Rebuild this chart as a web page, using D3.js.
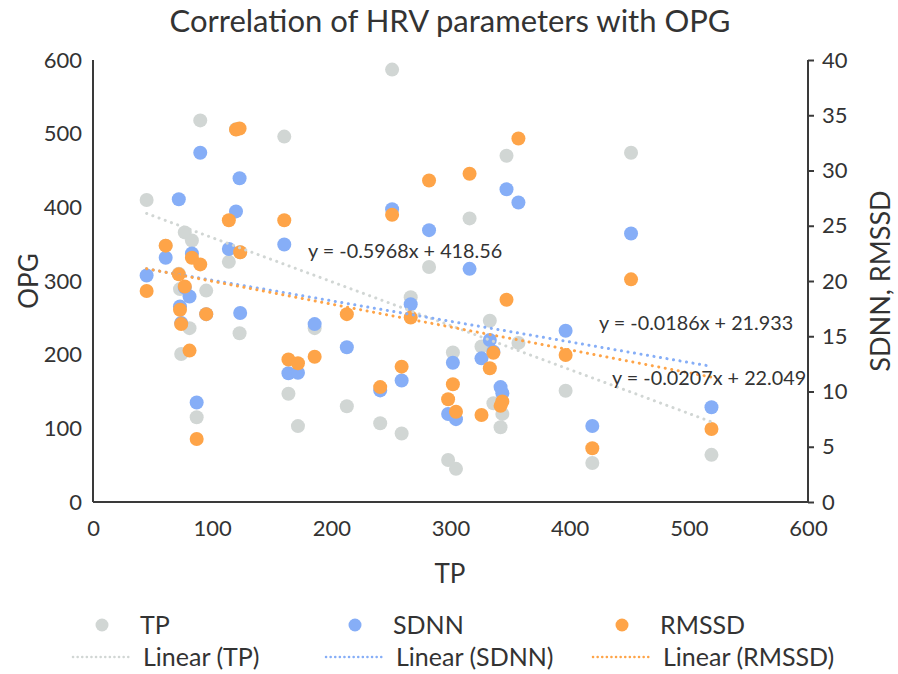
<!DOCTYPE html>
<html><head><meta charset="utf-8">
<script src="https://cdn.jsdelivr.net/npm/d3@7"></script>
<style>body{margin:0;background:#fff}svg{display:block}text{font-family:Lato,"Open Sans",sans-serif;fill:#333}</style>
</head><body><svg id="c" width="898" height="674"></svg>
<script>
const tp    = [45,61,72,73,74,77,81,83,87,90,95,114,120,123,123.5,160.5,164,172,186,213,241,251,259,266.6,282,298,302,304.6,316,326,333,336,342,343.5,347,357,396.6,419,451.5,519];
const opg   = [410,348,310,289,201,366,236,355,115,518,287,326,506,229,339,496,147,103,236,130,107,587,93,278,319,57,203,45,385,211,246,134,101.5,119.6,470,216,151,53,474,64];
const sdnn  = [20.5,22.1,27.4,17.7,16.2,19.4,18.6,22.5,9.0,31.6,17.0,22.9,26.3,29.3,17.1,23.3,11.65,11.7,16.1,14.0,10.1,26.5,11.0,17.9,24.6,7.96,12.6,7.5,21.1,13.0,14.66,13.6,10.4,9.84,28.3,27.1,15.5,6.88,24.3,8.57];
const rmssd = [19.1,23.2,20.6,17.4,16.1,19.5,13.7,22.1,5.7,21.5,17.0,25.5,33.7,33.8,22.6,25.5,12.9,12.55,13.15,17.0,10.4,26.0,12.25,16.7,29.1,9.3,10.65,8.17,29.7,7.87,12.1,13.5,8.7,9.1,18.3,32.9,13.3,4.86,20.15,6.6];
const xTicks = [0,100,200,300,400,500,600];
const yLeftTicks = [0,100,200,300,400,500,600];
const yRightTicks = [0,5,10,15,20,25,30,35,40];
const seriesNames = ["TP","SDNN","RMSSD"];
const trendSlopes = [-0.5968,-0.0186,-0.0207];
const trendIntercepts = [418.56,21.933,22.049];
const trendLabels = ["y = -0.5968x + 418.56","y = -0.0186x + 21.933","y = -0.0207x + 22.049"];
const colors = ["#d1d6d4","#86aef7","#fea448"];

const svg = d3.select("#c");
const L=93,R=808,T=60,B=502;
const x = d3.scaleLinear().domain([0,600]).range([L,R]);
const yL = d3.scaleLinear().domain([0,600]).range([B,T]);
const yR = d3.scaleLinear().domain([0,40]).range([B,T]);

svg.append("text").attr("x",450).attr("y",32).attr("text-anchor","middle").attr("font-size",31).text("Correlation of HRV parameters with OPG");

const axisCol="#3a3a3a";
const gL = svg.append("g").attr("transform",`translate(${L},0)`).call(d3.axisLeft(yL).tickValues(yLeftTicks).tickSize(0).tickPadding(11));
const gR = svg.append("g").attr("transform",`translate(${R},0)`).call(d3.axisRight(yR).tickValues(yRightTicks).tickSize(6).tickPadding(8));
const gB = svg.append("g").attr("transform",`translate(0,${B})`).call(d3.axisBottom(x).tickValues(xTicks).tickSize(0).tickPadding(18));
[gL,gR,gB].forEach(g=>{
  g.select(".domain").attr("stroke",axisCol).attr("stroke-width",2);
  g.selectAll(".tick line").attr("stroke",axisCol).attr("stroke-width",2);
  g.selectAll("text").attr("font-size",22).attr("fill","#333").attr("font-family","Lato");
});
gB.select(".domain").attr("d",`M${L},0H${R}`);
gL.select(".domain").attr("d",`M0,${T}V${B}`);
gR.select(".domain").attr("d",`M0,${T}V${B}`);

svg.append("text").attr("transform","translate(38,281) rotate(-90)").attr("text-anchor","middle").attr("font-size",26).text("OPG");
svg.append("text").attr("transform","translate(890,281) rotate(-90)").attr("text-anchor","middle").attr("font-size",27).text("SDNN, RMSSD");
svg.append("text").attr("x",450).attr("y",583).attr("text-anchor","middle").attr("font-size",26).text("TP");

const vals=[opg,sdnn,rmssd];
const ys=[yL,yR,yR];
vals.forEach((v,i)=>{
  svg.append("g").selectAll("circle").data(tp.map((t,j)=>[t,v[j]])).join("circle")
    .attr("cx",d=>x(d[0])).attr("cy",d=>ys[i](d[1])).attr("r",7).attr("fill",colors[i]);
});
const xmin=d3.min(tp), xmax=d3.max(tp);
trendSlopes.forEach((m,i)=>{
  const b=trendIntercepts[i];
  svg.append("line").attr("x1",x(xmin)).attr("y1",ys[i](m*xmin+b)).attr("x2",x(xmax)).attr("y2",ys[i](m*xmax+b))
    .attr("stroke",colors[i]).attr("stroke-width",3).attr("stroke-linecap","round").attr("stroke-dasharray","0.1,6.5");
});
const lblPos=[[308,258],[599,330],[612,385]];
trendLabels.forEach((t,i)=>{
  svg.append("text").attr("x",lblPos[i][0]).attr("y",lblPos[i][1]).attr("font-size",19.8).text(t);
});
const legX=[102,355,622];
seriesNames.forEach((n,i)=>{
  svg.append("circle").attr("cx",legX[i]).attr("cy",625).attr("r",6.5).attr("fill",colors[i]);
  svg.append("text").attr("x",legX[i]+38).attr("y",634).attr("font-size",25).text(n);
  svg.append("line").attr("x1",legX[i]-29).attr("x2",legX[i]+28).attr("y1",657).attr("y2",657)
    .attr("stroke",colors[i]).attr("stroke-width",2.5).attr("stroke-linecap","round").attr("stroke-dasharray","0.1,4.5");
  svg.append("text").attr("x",legX[i]+41).attr("y",666).attr("font-size",25).text("Linear ("+n+")");
});
</script></body></html>
